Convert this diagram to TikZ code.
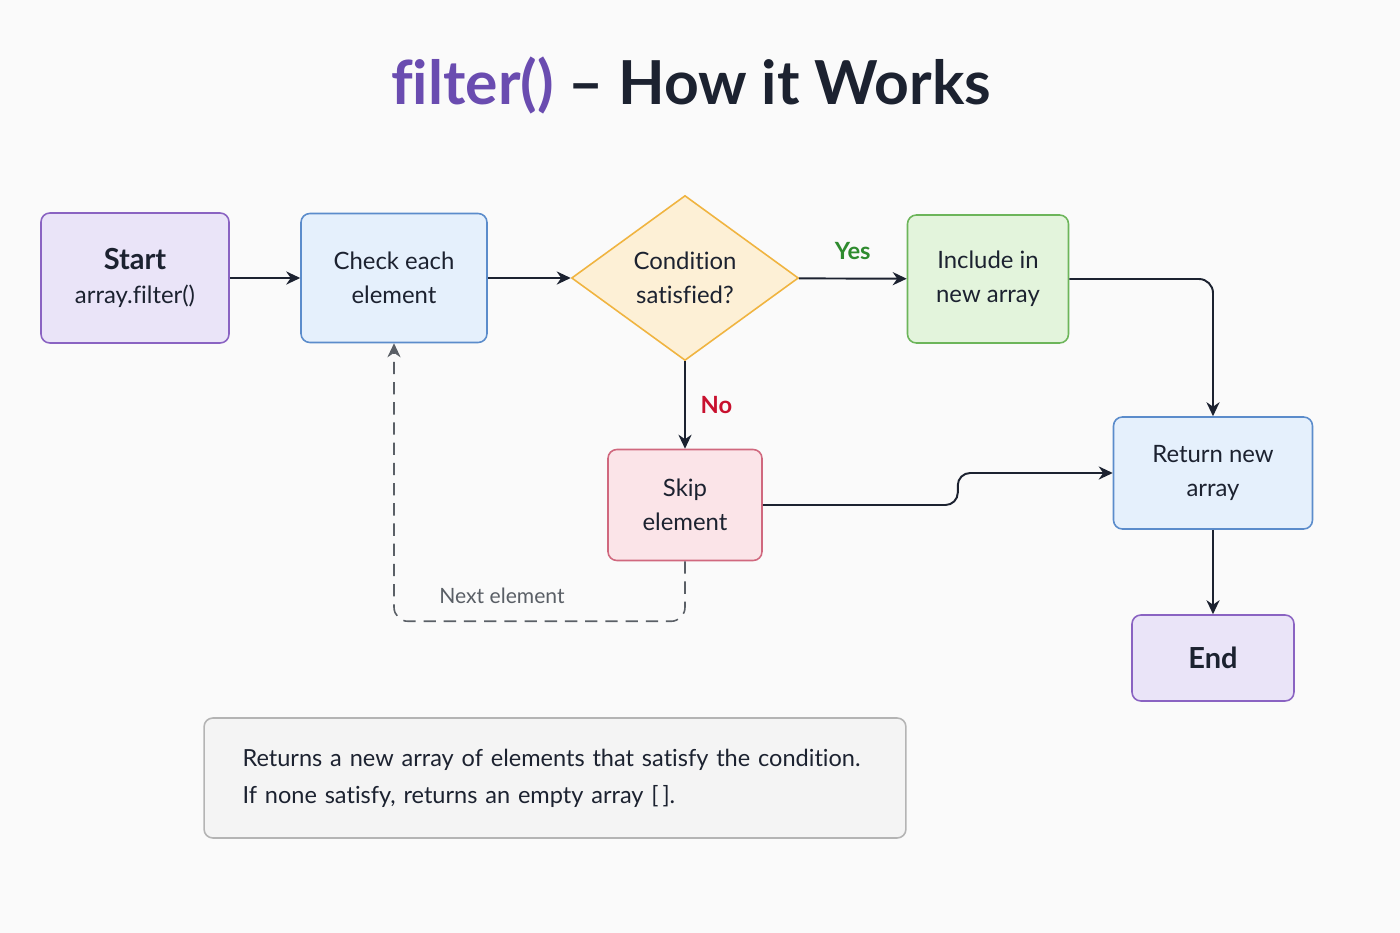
\documentclass[tikz,border=0pt]{standalone}
\usepackage{fontspec}
\setmainfont{Lato}[Ligatures=NoCommon]
\usetikzlibrary{shapes.geometric,arrows.meta,positioning,calc}
\definecolor{bgc}{HTML}{FAFAFA}
\definecolor{ink}{HTML}{1C2230}
\definecolor{titlepurple}{HTML}{6A4CB0}
\definecolor{lavfill}{HTML}{EAE4F8}
\definecolor{lavline}{HTML}{8A63C2}
\definecolor{bluefill}{HTML}{E5F0FC}
\definecolor{blueline}{HTML}{5B8CCB}
\definecolor{yelfill}{HTML}{FDF0D6}
\definecolor{yelline}{HTML}{F0B440}
\definecolor{grnfill}{HTML}{E3F4DC}
\definecolor{grnline}{HTML}{6CB55A}
\definecolor{redfill}{HTML}{FBE4E8}
\definecolor{redline}{HTML}{D0687E}
\definecolor{notefill}{HTML}{F4F4F4}
\definecolor{noteline}{HTML}{B4B4B4}
\definecolor{yesgreen}{HTML}{2E8B2E}
\definecolor{nored}{HTML}{C8102E}
\definecolor{loopgray}{HTML}{5A5F66}

\tikzset{
  box/.style={draw, line width=0.9pt, rounded corners=5pt, align=center, font=\fontsize{13.6}{19.3}\selectfont, text=ink},
  arr/.style={draw=ink, line width=1.1pt, -{Stealth[length=8pt,width=7.5pt]}},
}

\begin{document}
\begin{tikzpicture}[x=0.02cm, y=-0.02cm]
\fill[bgc] (0,0) rectangle (1400,933);
% title
\node (title) at (691,85) {\fontsize{34.5}{38}\selectfont\bfseries{\color{titlepurple}filter()} {\color{ink}-- How it Works}};

% flow boxes
\node[box, fill=lavfill, draw=lavline, minimum width=3.76cm, minimum height=2.6cm] (start) at (135,278) {{\bfseries\fontsize{16.5}{19}\selectfont Start}\\array.filter()};
\node[box, fill=bluefill, draw=blueline, minimum width=3.72cm, minimum height=2.58cm] (check) at (394,278) {Check each\\element};
\node[draw=yelline, fill=yelfill, line width=0.9pt, diamond, aspect=1.38, minimum width=4.54cm, minimum height=3.3cm, inner sep=0pt, align=center, font=\fontsize{13.6}{19.3}\selectfont, text=ink] (cond) at (685,278) {Condition\\satisfied?};
\node[box, fill=grnfill, draw=grnline, minimum width=3.22cm, minimum height=2.56cm] (incl) at (988,279) {Include in\\new array};
\node[box, fill=redfill, draw=redline, minimum width=3.08cm, minimum height=2.22cm] (skip) at (685,505) {Skip\\element};
\node[box, fill=bluefill, draw=blueline, minimum width=3.98cm, minimum height=2.24cm] (ret) at (1213,473) {Return new\\array};
\node[box, fill=lavfill, draw=lavline, minimum width=3.24cm, minimum height=1.72cm] (end) at (1213,658) {\bfseries\fontsize{16.5}{19}\selectfont End};

% note
\node[box, fill=notefill, draw=noteline, minimum width=14.04cm, minimum height=2.4cm, align=left, text width=12.5cm, font=\fontsize{13.4}{21}\selectfont] (note) at (555,778) {Returns a new array of elements that satisfy the condition.\\If none satisfy, returns an empty array [\,].};

% connectors
\draw[arr] (start) -- (check);
\draw[arr] (check) -- (cond);
\draw[arr] (cond) -- node[above=7pt, text=yesgreen, font=\bfseries\fontsize{13.5}{15}\selectfont] {Yes} (incl);
\draw[arr] (cond) -- node[right=5pt, text=nored, font=\bfseries\fontsize{13.5}{15}\selectfont] {No} (skip);
\draw[arr, rounded corners=8pt] (incl) -| (ret);
\draw[arr, rounded corners=7pt] (skip.east) -- ++(195,0) |- (ret.west);
\draw[arr] (ret) -- (end);
\draw[draw=loopgray, line width=0.9pt, dashed, dash pattern=on 7pt off 4.5pt, rounded corners=8pt, -{Stealth[length=8pt,width=7.5pt]}] (skip.south) -- ++(0,60) -| (check.south);
\node[text=loopgray, font=\fontsize{12}{14}\selectfont] (next) at (502,596) {Next element};
\end{tikzpicture}
\end{document}
